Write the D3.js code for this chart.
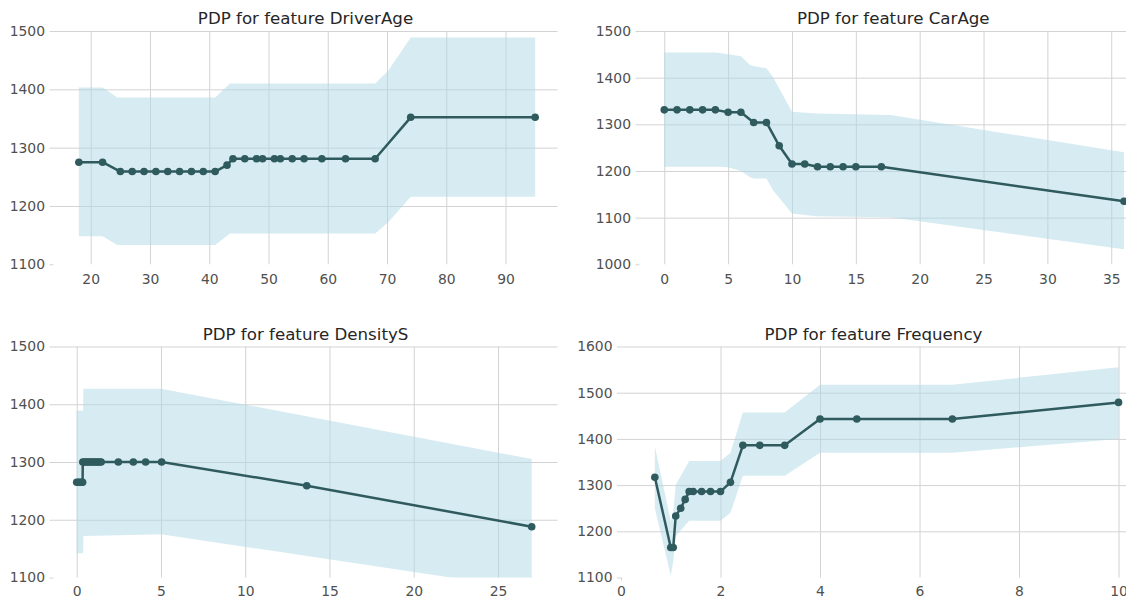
<!DOCTYPE html>
<html>
<head>
<meta charset="utf-8">
<script src="https://cdn.jsdelivr.net/npm/d3@7/dist/d3.min.js"></script>
<style>
  html, body { margin: 0; padding: 0; background: #ffffff; }
  svg { display: block; font-family: "DejaVu Sans", sans-serif; }
</style>
</head>
<body>
<svg id="chart" width="1126" height="598"></svg>
<script>
// ---- Partial dependence values per feature ----
const driverAgeX   = [18, 22, 25, 27, 29, 31, 33, 35, 37, 39, 41, 43, 44, 46, 48, 49, 51, 52, 54, 56, 59, 63, 68, 74, 95];
const driverAgePdp = [1275, 1275, 1259, 1259, 1259, 1259, 1259, 1259, 1259, 1259, 1259, 1270, 1281, 1281, 1281, 1281, 1281, 1281, 1281, 1281, 1281, 1281, 1281, 1352, 1352];
const driverAgeBandX = [18, 22, 24.5, 41, 43.5, 68, 70.2, 74, 95];
const driverAgeUpper = [1403, 1403, 1386, 1386, 1410, 1410, 1432, 1489, 1489];
const driverAgeLower = [1148, 1148, 1133, 1133, 1153, 1153, 1172, 1216, 1216];

const carAgeX   = [0, 1, 2, 3, 4, 5, 6, 7, 8, 9, 10, 11, 12, 13, 14, 15, 17, 36];
const carAgePdp = [1331, 1331, 1331, 1331, 1331, 1326, 1326, 1304, 1304, 1254, 1215, 1215, 1209, 1209, 1209, 1209, 1209, 1135];
const carAgeBandX = [0, 4, 5, 6, 6.7, 7, 8, 8.5, 10, 11.9, 17.7, 36];
const carAgeUpper = [1454, 1454, 1450, 1446, 1427, 1425, 1420, 1402, 1327, 1323, 1320, 1240];
const carAgeLower = [1209, 1209, 1208, 1200, 1187, 1184, 1184, 1159, 1109, 1103, 1101, 1032];

const densityX   = [0, 0.1, 0.2, 0.3, 0.35, 0.36, 0.45, 0.55, 0.65, 0.75, 0.85, 0.95, 1.05, 1.15, 1.25, 1.35, 1.45, 2.47, 3.36, 4.09, 5.04, 13.65, 27];
const densityPdp = [1265, 1265, 1265, 1265, 1265, 1300, 1300, 1300, 1300, 1300, 1300, 1300, 1300, 1300, 1300, 1300, 1300, 1300, 1300, 1300, 1300, 1259, 1188];
const densityBandX = [0, 0.38, 0.4, 5, 27];
const densityUpper = [1389, 1389, 1427, 1427, 1305];
const densityLower = [1142, 1142, 1172, 1175, 1079];

const frequencyX   = [0.68, 1.0, 1.05, 1.1, 1.2, 1.29, 1.37, 1.45, 1.62, 1.8, 2.0, 2.2, 2.45, 2.79, 3.29, 4.0, 4.74, 6.66, 10];
const frequencyPdp = [1317, 1165, 1165, 1233, 1250, 1269, 1286, 1286, 1286, 1286, 1286, 1306, 1386, 1386, 1386, 1443, 1443, 1443, 1479];
const frequencyBandX = [0.68, 1.0, 1.05, 1.1, 1.37, 2.0, 2.2, 2.45, 3.29, 4.0, 6.66, 10];
const frequencyUpper = [1384, 1222, 1240, 1300, 1352, 1352, 1370, 1457, 1457, 1517, 1517, 1555];
const frequencyLower = [1250, 1104, 1135, 1190, 1223, 1223, 1240, 1320, 1320, 1370, 1370, 1400];

// ---- Tick values ----
const driverAgeXTicks = [20, 30, 40, 50, 60, 70, 80, 90];
const driverAgeYTicks = [1100, 1200, 1300, 1400, 1500];
const carAgeXTicks = [0, 5, 10, 15, 20, 25, 30, 35];
const carAgeYTicks = [1000, 1100, 1200, 1300, 1400, 1500];
const densityXTicks = [0, 5, 10, 15, 20, 25];
const densityYTicks = [1100, 1200, 1300, 1400, 1500];
const frequencyXTicks = [0, 2, 4, 6, 8, 10];
const frequencyYTicks = [1100, 1200, 1300, 1400, 1500, 1600];

// ---- Styling ----
const LINE_COLOR = "#2f5a5e";
const BAND_COLOR = "rgba(173, 216, 230, 0.5)";
const GRID_COLOR = "#d3d3d3";
const TICK_TEXT = "#505050";
const TITLE_TEXT = "#262626";

const panels = [
  { title: "PDP for feature DriverAge", x: driverAgeX, y: driverAgePdp,
    bx: driverAgeBandX, hi: driverAgeUpper, lo: driverAgeLower,
    xTicks: driverAgeXTicks, yTicks: driverAgeYTicks,
    xDomain: [13.72, 98.77], yDomain: [1100, 1500],
    box: { left: 53.5, right: 557.5, top: 31, bottom: 264.3 }, xPad: 9.7 },
  { title: "PDP for feature CarAge", x: carAgeX, y: carAgePdp,
    bx: carAgeBandX, hi: carAgeUpper, lo: carAgeLower,
    xTicks: carAgeXTicks, yTicks: carAgeYTicks,
    xDomain: [-1.94, 37.8], yDomain: [1000, 1500],
    box: { left: 639.5, right: 1147, top: 31, bottom: 264.3 }, xPad: 9.7 },
  { title: "PDP for feature DensityS", x: densityX, y: densityPdp,
    bx: densityBandX, hi: densityUpper, lo: densityLower,
    xTicks: densityXTicks, yTicks: densityYTicks,
    xDomain: [-1.377, 28.53], yDomain: [1100, 1500],
    box: { left: 53.5, right: 557.5, top: 346.5, bottom: 577.5 }, xPad: 8.6 },
  { title: "PDP for feature Frequency", x: frequencyX, y: frequencyPdp,
    bx: frequencyBandX, hi: frequencyUpper, lo: frequencyLower,
    xTicks: frequencyXTicks, yTicks: frequencyYTicks,
    xDomain: [0, 10.15], yDomain: [1100, 1600],
    box: { left: 621, right: 1126, top: 346.5, bottom: 577.5 }, xPad: 8.6 }
];

const svg = d3.select("#chart");
svg.append("rect").attr("width", 1126).attr("height", 598).attr("fill", "#ffffff");

panels.forEach((p, i) => {
  const w = p.box.right - p.box.left;
  const h = p.box.bottom - p.box.top;
  const x = d3.scaleLinear().domain(p.xDomain).range([0, w]);
  const y = d3.scaleLinear().domain(p.yDomain).range([h, 0]);

  const g = svg.append("g").attr("transform", `translate(${p.box.left},${p.box.top})`);

  const clipId = `clip-${i}`;
  g.append("clipPath").attr("id", clipId)
    .append("rect").attr("x", 0).attr("y", 0).attr("width", w).attr("height", h);

  // vertical grid + x tick labels
  const gx = g.append("g")
    .attr("transform", `translate(0,${h})`)
    .call(d3.axisBottom(x).tickValues(p.xTicks).tickSize(-h).tickPadding(p.xPad).tickFormat(d3.format("d")));
  gx.select(".domain").remove();
  gx.selectAll(".tick line")
    .attr("stroke", GRID_COLOR).attr("stroke-width", 1)
    .filter(d => d === p.xDomain[0]).attr("y2", 3);
  gx.selectAll(".tick text")
    .attr("fill", TICK_TEXT).style("font-size", "13.9px").style("font-family", "DejaVu Sans, sans-serif");

  // horizontal grid + y tick labels
  const gy = g.append("g")
    .call(d3.axisLeft(y).tickValues(p.yTicks).tickSize(-w).tickPadding(8.5).tickFormat(d3.format("d")));
  gy.select(".domain").remove();
  gy.selectAll(".tick line")
    .attr("stroke", GRID_COLOR).attr("stroke-width", 1).attr("x1", -4)
    .filter(d => d === p.yDomain[0]).attr("x2", 0);
  gy.selectAll(".tick text")
    .attr("fill", TICK_TEXT).style("font-size", "13.9px").style("font-family", "DejaVu Sans, sans-serif");

  // confidence band
  const bandData = p.bx.map((v, k) => ({ x: v, hi: p.hi[k], lo: p.lo[k] }));
  g.append("path")
    .datum(bandData)
    .attr("clip-path", `url(#${clipId})`)
    .attr("fill", BAND_COLOR)
    .attr("stroke", "none")
    .attr("d", d3.area().x(d => x(d.x)).y0(d => y(d.lo)).y1(d => y(d.hi)));

  // partial dependence line with markers
  const pts = p.x.map((v, k) => ({ x: v, y: p.y[k] }));
  const marks = g.append("g").attr("clip-path", `url(#${clipId})`);
  marks.append("path")
    .datum(pts)
    .attr("fill", "none")
    .attr("stroke", LINE_COLOR)
    .attr("stroke-width", 2.5)
    .attr("stroke-linejoin", "round")
    .attr("d", d3.line().x(d => x(d.x)).y(d => y(d.y)));
  marks.selectAll("circle")
    .data(pts)
    .join("circle")
    .attr("cx", d => x(d.x))
    .attr("cy", d => y(d.y))
    .attr("r", 3.8)
    .attr("fill", LINE_COLOR);

  // title
  g.append("text")
    .attr("x", w / 2)
    .attr("y", -7)
    .attr("text-anchor", "middle")
    .attr("fill", TITLE_TEXT)
    .style("font-size", "16.67px")
    .text(p.title);
});
</script>
</body>
</html>
